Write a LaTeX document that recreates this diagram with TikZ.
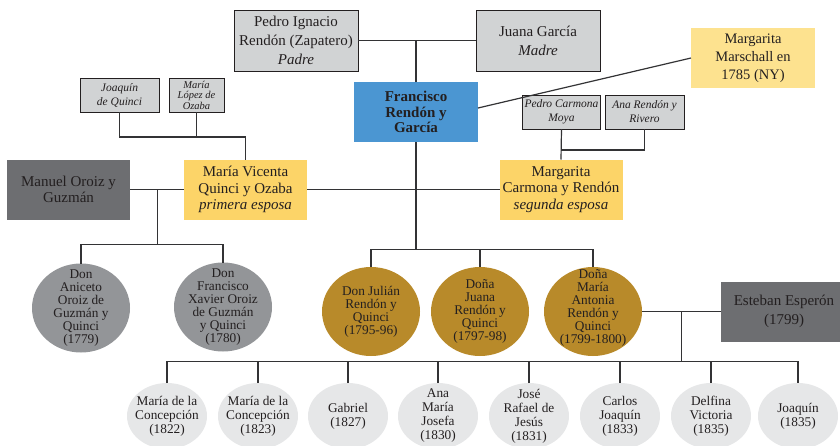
\documentclass[tikz,border=0pt]{standalone}
\usepackage{fontspec}
\setmainfont{Liberation Serif}
\usetikzlibrary{shapes.geometric}
\definecolor{boxgray}{HTML}{D1D3D4}
\definecolor{fblue}{HTML}{4B96D2}
\definecolor{yel}{HTML}{FCD468}
\definecolor{yelpale}{HTML}{FDE28F}
\definecolor{dgray}{HTML}{6D6E71}
\definecolor{egray}{HTML}{939598}
\definecolor{gold}{HTML}{B88A2A}
\definecolor{lgray}{HTML}{E6E7E8}
\definecolor{lnc}{HTML}{333335}
\definecolor{txt}{HTML}{231F20}
\begin{document}
\begin{tikzpicture}[x=1pt,y=-1pt,
  every node/.style={text=txt,align=center,inner sep=0pt,outer sep=0pt},
  bigbox/.style={rectangle,minimum width=124pt,minimum height=61pt,font=\fontsize{15}{19}\selectfont},
  graybox/.style={bigbox,fill=boxgray,draw=txt,line width=1pt},
  smallbox/.style={rectangle,fill=boxgray,draw=txt,line width=1pt,minimum height=34pt,font=\fontsize{11.5}{14}\selectfont\itshape},
  midell/.style={ellipse,minimum width=98pt,minimum height=89pt},
  kid/.style={ellipse,fill=lgray,minimum width=80pt,minimum height=66pt},
  midtxt/.style={font=\fontsize{13.3}{13}\selectfont},
  kidtxt/.style={font=\fontsize{13.3}{14}\selectfont},
  conn/.style={draw=lnc,line width=1.2pt}
]
\useasboundingbox (0,0) rectangle (840,445);
% top boxes
\node[graybox] (pedro) at (296,40.5) {Pedro Ignacio\\Rendón (Zapatero)\\\textit{Padre}};
\node[graybox] (juana) at (538,40.5) {Juana García\\\textit{Madre}};
\node[bigbox,fill=fblue,minimum height=60pt,font=\fontsize{15}{15.5}\selectfont\bfseries] (fran) at (416,112) {Francisco\\Rendón y\\García};
\node[bigbox,fill=yelpale,minimum height=60pt,font=\fontsize{14.5}{18}\selectfont] (marsch) at (753,58) {Margarita\\Marschall en\\1785 (NY)};
\node[smallbox,minimum width=79pt] (joaq) at (119.5,95) {Joaquín\\de Quinci};
\node[smallbox,minimum width=55pt,font=\fontsize{10.5}{10.5}\selectfont\itshape] (mlopez) at (196.5,95) {María\\López de\\Ozaba};
\node[smallbox,minimum width=78pt] (pcarm) at (561.5,112) {Pedro Carmona\\Moya};
\node[smallbox,minimum width=79pt] (arend) at (644.5,112) {Ana Rendón y\\Rivero};
\node[bigbox,fill=dgray,minimum width=123pt,minimum height=60pt,font=\fontsize{15}{16}\selectfont] (manuel) at (68.5,189.5) {Manuel Oroiz y\\Guzmán};
\node[bigbox,fill=yel,minimum width=123pt,minimum height=60pt,font=\fontsize{15}{16.5}\selectfont] (mvic) at (245.5,189.5) {María Vicenta\\Quinci y Ozaba\\\textit{primera esposa}};
\node[bigbox,fill=yel,minimum width=123pt,minimum height=60pt,font=\fontsize{15}{16.5}\selectfont] (mcarm) at (561,189.5) {Margarita\\Carmona y Rendón\\\textit{segunda esposa}};
\node[bigbox,fill=dgray,minimum width=126pt,minimum height=60pt,font=\fontsize{15}{19}\selectfont] (esteban) at (784,311.5) {Esteban Esperón\\(1799)};
% middle ellipses
\node[midell,fill=egray] (aniceto) at (81,308) {};
\node[midtxt] at (aniceto) {Don\\Aniceto\\Oroiz de\\Guzmán y\\Quinci\\(1779)};
\node[midell,fill=egray] (fxavier) at (223,307) {};
\node[midtxt] at (fxavier) {Don\\Francisco\\Xavier Oroiz\\de Guzmán\\y Quinci\\(1780)};
\node[midell,fill=gold] (julian) at (371,311.5) {};
\node[midtxt] at (julian) {Don Julián\\Rendón y\\Quinci\\(1795-96)};
\node[midell,fill=gold] (juana2) at (480,311.5) {};
\node[midtxt] at (juana2) {Doña\\Juana\\Rendón y\\Quinci\\(1797-98)};
\node[midell,fill=gold] (mantonia) at (593,311.5) {};
\node[midtxt] at ([yshift=4pt]mantonia.center) {Doña\\María\\Antonia\\Rendón y\\Quinci\\(1799-1800)};
% grandchildren
\node[kid] (c1) at (167,416) {};
\node[kidtxt] at (c1) {María de la\\Concepción\\(1822)};
\node[kid] (c2) at (258,416) {};
\node[kidtxt] at (c2) {María de la\\Concepción\\(1823)};
\node[kid] (c3) at (348,416) {};
\node[kidtxt] at (c3) {Gabriel\\(1827)};
\node[kid] (c4) at (438,416) {};
\node[kidtxt] at (c4) {Ana\\María\\Josefa\\(1830)};
\node[kid] (c5) at (529,416) {};
\node[kidtxt] at (c5) {José\\Rafael de\\Jesús\\(1831)};
\node[kid] (c6) at (620,416) {};
\node[kidtxt] at (c6) {Carlos\\Joaquín\\(1833)};
\node[kid] (c7) at (711,416) {};
\node[kidtxt] at (c7) {Delfina\\Victoria\\(1835)};
\node[kid] (c8) at (798,416) {};
\node[kidtxt] at (c8) {Joaquín\\(1835)};
% coordinates
\coordinate (fb) at (416,249.5);
\coordinate (ob) at (157.5,244.5);
\coordinate (eb) at (681.5,361.5);
% connectors
\draw[conn] (pedro.east) -- (juana.west);
\draw[conn] (fran.north) -- (fran.north |- pedro.east);
\draw[conn] ([yshift=4pt]fran.east) -- (marsch.west);
\draw[conn] (joaq.south) -- ++(0,25) -| (mvic.north);
\draw[conn] (mlopez.south) -- ++(0,25);
\draw[conn] (pcarm.south) -- ++(0,21) -| (arend.south);
\draw[conn] (pcarm.south) -- (mcarm.north);
\draw[conn] (manuel.east) -- (mvic.west);
\draw[conn] (mvic.east) -- (mcarm.west);
\draw[conn] (fran.south) -- (fb);
\draw[conn] (julian.north) |- (fb) -| (mantonia.north);
\draw[conn] (juana2.north) -- (juana2.north |- fb);
\draw[conn] (ob |- manuel.east) -- (ob);
\draw[conn] (aniceto.north) |- (ob) -| (fxavier.north);
\draw[conn] (mantonia.east) -- (esteban.west);
\draw[conn] (eb |- esteban.west) -- (eb);
\draw[conn] (c1.north) |- (eb) -| (c8.north);
\foreach \k in {c2,c3,c4,c5,c6,c7} \draw[conn] (\k.north) -- (\k.north |- eb);
\end{tikzpicture}
\end{document}
